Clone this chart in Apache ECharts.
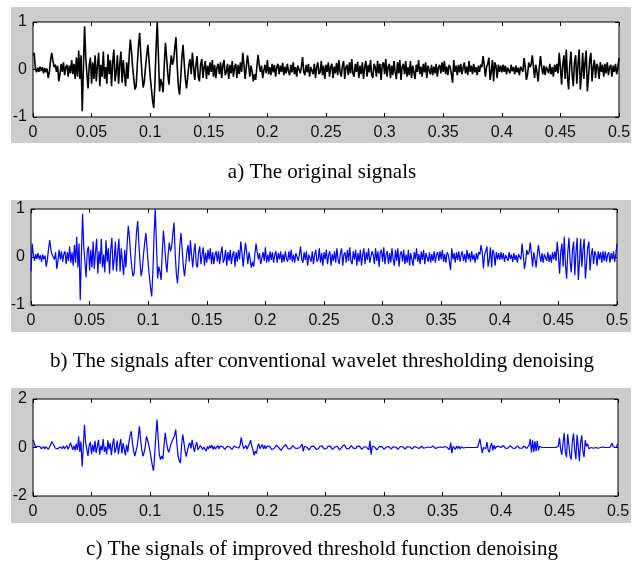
<!DOCTYPE html>
<html>
<head>
<meta charset="utf-8">
<script src="https://cdn.jsdelivr.net/npm/echarts@6/dist/echarts.min.js"></script>
<style>
	body { margin: 0; background: #fff; }
	#main { width: 638px; height: 565px; }
</style>
</head>
<body>
<div id="main"></div>
<script>
	// sample spacing (s), every array below starts at t = 0
	var dt = 0.001;

	// a) original signal
	var sigA = [
		0.30, 0.35, 0.02, -0.06, 0.04, -0.05, 0.06, -0.03, 0.05, -0.08, 0.03, -0.06, 0.02, -0.18, -0.05, 0.20, 0.35, 0.18, 0.05, 0.10,
		-0.05, 0.08, -0.25, -0.10, 0.12, -0.05, 0.15, -0.12, 0.05, 0.10, -0.15, 0.08, -0.08, 0.20, -0.10, 0.12, -0.20, 0.25, -0.15, 0.40,
		-0.20, 0.30, -0.88, 0.05, 0.91, 0.25, -0.10, -0.40, 0.10, 0.25, -0.30, 0.15, -0.20, 0.30, -0.25, 0.08, 0.35, -0.35, 0.10, -0.15,
		0.38, -0.20, 0.05, -0.30, 0.32, -0.10, 0.20, -0.35, 0.15, 0.42, -0.25, -0.05, 0.30, -0.30, 0.10, 0.38, -0.28, 0.20, -0.10, -0.35,
		0.15, -0.20, 0.25, 0.63, 0.40, 0.05, -0.20, -0.42, -0.35, 0.10, 0.50, 0.77, 0.30, -0.10, -0.38, -0.25, 0.05, 0.30, 0.52, 0.20,
		-0.15, -0.40, -0.65, -0.81, -0.30, 0.45, 1.00, 0.30, -0.46, -0.20, -0.30, -0.48, 0.10, 0.56, 0.25, -0.10, -0.32, 0.05, 0.30, 0.10,
		0.20, 0.45, 0.68, 0.10, -0.35, -0.53, -0.20, 0.25, 0.52, 0.15, -0.20, -0.40, -0.15, 0.10, 0.22, -0.10, 0.35, 0.05, -0.22, 0.10,
		0.28, -0.15, -0.25, 0.10, 0.22, -0.18, 0.05, 0.18, -0.20, 0.08, -0.12, 0.15, -0.05, 0.20, -0.15, 0.10, -0.18, 0.05, 0.12, -0.10,
		0.15, -0.18, 0.08, 0.20, -0.12, -0.05, 0.12, -0.20, 0.10, -0.08, 0.18, -0.15, 0.05, 0.12, -0.18, 0.10, -0.10, 0.15, -0.05, 0.35,
		0.10, -0.20, 0.05, 0.30, 0.10, -0.15, 0.08, -0.05, -0.25, -0.10, -0.22, 0.05, 0.31, 0.10, -0.05, 0.08, -0.18, -0.02, 0.10, -0.08,
		0.20, -0.10, 0.05, -0.12, 0.12, -0.06, 0.10, -0.15, 0.05, 0.12, -0.10, 0.08, -0.05, 0.14, -0.12, 0.06, -0.08, 0.12, -0.04, -0.12,
		0.10, -0.06, 0.15, -0.10, 0.05, -0.15, 0.08, 0.12, -0.08, 0.05, 0.26, -0.05, -0.12, 0.10, -0.06, 0.12, -0.15, 0.05, 0.08, -0.10,
		0.12, -0.18, 0.05, 0.15, -0.10, -0.05, 0.18, -0.12, 0.08, -0.20, 0.10, -0.05, 0.15, -0.15, 0.05, 0.12, -0.18, 0.06, -0.08, 0.14,
		-0.12, 0.20, -0.05, -0.15, 0.08, 0.18, -0.20, 0.05, 0.10, -0.12, 0.15, -0.08, 0.22, -0.10, -0.15, 0.12, -0.05, 0.16, -0.18, 0.08,
		-0.10, 0.15, -0.20, 0.05, 0.18, -0.15, 0.10, -0.06, 0.20, -0.12, -0.18, 0.12, 0.05, -0.15, 0.18, -0.08, 0.12, -0.22, 0.10, 0.15,
		-0.10, 0.22, -0.15, 0.05, 0.12, -0.18, 0.08, -0.12, 0.18, -0.05, -0.20, 0.15, -0.08, 0.20, -0.22, 0.06, 0.12, -0.10, 0.18, -0.15,
		0.05, -0.12, 0.18, -0.18, 0.08, 0.12, -0.20, 0.10, -0.05, 0.20, -0.10, 0.06, -0.15, 0.12, -0.06, 0.15, -0.18, 0.08, 0.12, -0.10,
		0.10, -0.12, 0.06, -0.08, 0.12, -0.15, 0.05, 0.10, -0.08, 0.15, -0.05, 0.18, -0.10, 0.06, -0.12, 0.10, 0.05, -0.10, -0.28, 0.20,
		-0.05, 0.08, -0.12, 0.10, -0.06, 0.12, -0.10, 0.04, 0.15, -0.08, 0.06, -0.12, 0.18, -0.05, 0.08, -0.10, 0.12, -0.06, 0.05, -0.12,
		0.08, -0.05, 0.10, 0.05, 0.28, 0.10, -0.15, 0.05, 0.12, 0.25, -0.22, -0.05, 0.20, -0.25, 0.15, 0.08, -0.18, 0.10, -0.05, 0.08,
		-0.06, 0.10, -0.05, 0.08, -0.10, 0.04, 0.06, -0.08, 0.10, -0.04, 0.05, -0.10, 0.08, -0.06, 0.04, -0.12, 0.06, 0.10, -0.05, 0.24,
		0.05, -0.22, -0.10, 0.15, 0.05, 0.10, 0.30, 0.05, -0.18, 0.10, -0.05, -0.25, 0.05, 0.28, 0.05, -0.10, 0.08, -0.12, 0.06, 0.10,
		-0.08, 0.12, -0.10, 0.05, -0.15, 0.10, -0.05, 0.12, -0.08, 0.35, 0.05, -0.32, 0.10, 0.30, -0.20, 0.42, -0.15, -0.42, 0.10, 0.38,
		-0.10, -0.35, 0.15, 0.30, -0.30, 0.10, 0.42, -0.42, -0.10, 0.35, -0.20, 0.15, 0.40, -0.46, -0.15, 0.20, 0.35, -0.25, 0.05, 0.20,
		-0.18, 0.12, 0.05, -0.20, 0.15, -0.05, 0.10, -0.15, 0.12, -0.08, 0.15, -0.12, 0.05, 0.10, -0.15, 0.08, -0.05, 0.12, -0.10, 0.05, 0.24
	];

	// b) conventional wavelet thresholding
	var sigB = [
		-0.30, 0.28, 0.05, -0.08, 0.06, -0.04, 0.08, -0.05, 0.04, -0.10, 0.05, -0.05, 0.03, -0.20, -0.05, 0.18, 0.35, 0.15, 0.05, 0.08,
		-0.05, 0.10, -0.25, -0.08, 0.15, -0.05, 0.12, -0.10, 0.06, 0.12, -0.15, 0.10, -0.08, 0.22, -0.12, 0.10, -0.18, 0.25, -0.12, 0.42,
		-0.22, 0.28, -0.90, 0.05, 0.90, 0.22, -0.10, -0.42, 0.12, 0.22, -0.28, 0.15, -0.22, 0.32, -0.25, 0.10, 0.38, -0.35, 0.12, -0.15,
		0.38, -0.22, 0.05, -0.32, 0.35, -0.10, 0.18, -0.35, 0.15, 0.40, -0.28, -0.05, 0.32, -0.30, 0.10, 0.38, -0.30, 0.18, -0.10, -0.38,
		0.15, -0.22, 0.25, 0.65, 0.42, 0.05, -0.22, -0.40, -0.35, 0.12, 0.50, 0.75, 0.30, -0.10, -0.40, -0.25, 0.05, 0.30, 0.50, 0.20,
		-0.15, -0.40, -0.65, -0.82, -0.30, 0.45, 1.00, 0.30, -0.45, -0.20, -0.30, -0.48, 0.10, 0.55, 0.25, -0.10, -0.32, 0.05, 0.30, 0.12,
		0.22, 0.48, 0.72, 0.10, -0.35, -0.55, -0.20, 0.25, 0.50, 0.15, -0.20, -0.40, -0.15, 0.10, 0.25, -0.10, 0.35, 0.05, -0.22, 0.10,
		0.28, -0.15, -0.22, 0.10, 0.22, -0.15, 0.05, 0.20, -0.18, 0.08, -0.12, 0.15, -0.05, 0.18, -0.15, 0.10, -0.15, 0.05, 0.12, -0.10,
		0.12, -0.15, 0.08, 0.22, -0.12, -0.05, 0.15, -0.18, 0.10, -0.08, 0.15, -0.15, 0.05, 0.12, -0.20, 0.10, -0.10, 0.15, -0.05, 0.32,
		0.10, -0.20, 0.05, 0.30, 0.10, -0.15, 0.10, -0.05, -0.22, -0.10, -0.20, 0.05, 0.28, 0.10, -0.05, 0.08, -0.15, -0.02, 0.10, -0.08,
		0.20, -0.12, 0.05, -0.10, 0.12, -0.06, 0.10, -0.12, 0.05, 0.12, -0.12, 0.08, -0.05, 0.12, -0.12, 0.06, -0.10, 0.12, -0.04, -0.10,
		0.12, -0.06, 0.15, -0.10, 0.05, -0.12, 0.08, 0.12, -0.08, 0.05, 0.22, -0.05, -0.12, 0.10, -0.06, 0.12, -0.18, 0.05, 0.08, -0.10,
		0.12, -0.15, 0.05, 0.15, -0.10, -0.05, 0.18, -0.12, 0.08, -0.18, 0.10, -0.05, 0.15, -0.15, 0.05, 0.12, -0.18, 0.06, -0.08, 0.12,
		-0.12, 0.18, -0.05, -0.15, 0.08, 0.18, -0.18, 0.05, 0.10, -0.12, 0.15, -0.08, 0.20, -0.10, -0.15, 0.12, -0.05, 0.15, -0.18, 0.08,
		-0.10, 0.15, -0.18, 0.05, 0.18, -0.15, 0.10, -0.06, 0.18, -0.12, -0.15, 0.12, 0.05, -0.15, 0.18, -0.08, 0.12, -0.20, 0.10, 0.15,
		-0.10, 0.20, -0.15, 0.05, 0.12, -0.15, 0.08, -0.12, 0.18, -0.05, -0.18, 0.15, -0.08, 0.18, -0.20, 0.06, 0.12, -0.10, 0.15, -0.15,
		0.05, -0.12, 0.15, -0.18, 0.08, 0.12, -0.18, 0.10, -0.05, 0.18, -0.10, 0.06, -0.15, 0.12, -0.06, 0.15, -0.15, 0.08, 0.12, -0.10,
		0.10, -0.12, 0.06, -0.08, 0.12, -0.12, 0.05, 0.10, -0.08, 0.12, -0.05, 0.15, -0.10, 0.06, -0.12, 0.10, 0.05, -0.10, -0.27, 0.18,
		-0.05, 0.08, -0.12, 0.10, -0.06, 0.12, -0.10, 0.04, 0.12, -0.08, 0.06, -0.12, 0.15, -0.05, 0.08, -0.10, 0.12, -0.06, 0.05, -0.12,
		0.08, -0.05, 0.10, 0.05, 0.25, 0.10, -0.24, 0.05, 0.12, 0.22, -0.20, -0.05, 0.20, -0.22, 0.15, 0.08, -0.18, 0.10, -0.05, 0.08,
		-0.06, 0.10, -0.05, 0.08, -0.10, 0.04, 0.06, -0.08, 0.10, -0.04, 0.05, -0.10, 0.08, -0.06, 0.04, -0.12, 0.06, 0.10, -0.05, 0.28,
		0.05, -0.25, -0.10, 0.15, 0.05, 0.10, 0.30, 0.05, -0.20, 0.10, -0.05, -0.22, 0.05, 0.25, 0.05, -0.10, 0.08, -0.12, 0.06, 0.10,
		-0.08, 0.10, -0.10, 0.05, -0.12, 0.10, -0.05, 0.12, -0.08, 0.32, 0.05, -0.35, 0.10, 0.28, -0.20, 0.42, -0.15, -0.45, 0.10, 0.40,
		-0.10, -0.32, 0.15, 0.32, -0.38, 0.10, 0.40, -0.48, -0.10, 0.38, -0.20, 0.15, 0.38, -0.45, -0.15, 0.20, 0.32, -0.28, 0.05, 0.18,
		-0.15, 0.12, 0.05, -0.18, 0.12, -0.05, 0.10, -0.12, 0.12, -0.08, 0.12, -0.10, 0.05, 0.10, -0.12, 0.08, -0.05, 0.12, -0.10, 0.06, 0.28
	];

	// c) improved threshold function
	var sigC = [
		0.32, 0.20, 0.02, -0.04, 0.05, -0.02, 0.04, -0.05, 0.02, 0.03, -0.06, 0.04, -0.02, -0.08, -0.03, 0.10, 0.25, 0.30, 0.08, -0.02,
		0.05, -0.06, -0.12, 0.02, 0.08, -0.04, 0.06, -0.05, 0.03, 0.08, -0.08, 0.04, 0.20, 0.05, -0.10, 0.08, -0.12, 0.15, -0.10, 0.45,
		-0.18, 0.25, -0.78, 0.05, 0.94, 0.20, -0.08, -0.35, 0.08, 0.22, -0.28, 0.12, -0.18, 0.28, -0.22, 0.06, 0.32, -0.30, 0.08, -0.12,
		0.35, -0.18, 0.04, -0.28, 0.30, -0.08, 0.18, -0.32, 0.12, 0.38, -0.22, -0.04, 0.28, -0.28, 0.08, 0.35, -0.25, 0.18, -0.08, -0.32,
		0.12, -0.18, 0.22, 0.50, 0.67, 0.20, -0.15, -0.35, -0.43, 0.05, 0.45, 0.87, 0.30, -0.10, -0.36, -0.20, 0.05, 0.46, 0.30, 0.10,
		-0.15, -0.45, -0.75, -0.96, -0.30, 0.50, 1.15, 0.35, -0.30, -0.50, -0.35, -0.48, 0.10, 0.60, 0.25, -0.05, -0.20, -0.23, 0.15, 0.28,
		0.20, 0.50, 0.74, 0.15, -0.35, -0.55, -0.64, 0.10, 0.53, 0.20, -0.15, -0.38, -0.12, 0.08, 0.20, -0.05, 0.32, 0.05, -0.18, 0.08,
		0.22, -0.10, -0.12, 0.08, 0.12, -0.08, 0.02, 0.10, -0.15, 0.04, -0.06, 0.08, -0.02, 0.10, -0.08, 0.04, -0.06, 0.02, 0.08, -0.05,
		0.06, 0.10, 0.04, -0.04, -0.08, -0.03, 0.05, 0.09, 0.03, -0.05, -0.08, -0.02, 0.06, 0.08, 0.00, -0.06, -0.02, 0.10, 0.42, 0.15,
		-0.05, -0.02, 0.08, -0.06, 0.05, 0.15, 0.30, 0.05, -0.10, -0.32, -0.15, -0.25, 0.05, 0.15, -0.05, -0.10, 0.12, -0.06, 0.08, -0.05,
		0.05, 0.10, 0.06, -0.02, -0.08, -0.10, -0.04, 0.04, 0.10, 0.08, 0.00, -0.06, -0.12, -0.05, 0.03, 0.10, 0.12, 0.04, -0.05, -0.10,
		-0.06, 0.02, 0.08, 0.05, -0.03, -0.08, -0.04, 0.04, 0.00, -0.06, 0.14, -0.16, 0.05, 0.08, 0.02, -0.06, -0.10, -0.03, 0.05, 0.10,
		0.06, -0.02, -0.08, -0.12, -0.05, 0.04, 0.10, 0.07, 0.00, -0.06, -0.10, -0.04, 0.05, 0.11, 0.06, -0.02, -0.08, -0.06, 0.02, 0.08,
		0.05, -0.03, -0.10, -0.07, 0.02, 0.09, 0.12, 0.04, -0.05, -0.10, -0.05, 0.03, 0.08, 0.04, -0.04, -0.09, -0.04, 0.05, 0.10, 0.06,
		-0.02, -0.08, -0.05, 0.03, 0.06, 0.02, 0.00, -0.10, 0.28, -0.30, 0.06, 0.08, 0.02, -0.06, -0.10, -0.04, 0.04, 0.10, 0.05, -0.03,
		-0.08, -0.05, 0.02, 0.07, 0.04, -0.02, -0.06, -0.03, 0.03, 0.06, 0.02, -0.04, -0.07, -0.02, 0.04, 0.08, 0.03, -0.03, -0.06, -0.02,
		0.03, 0.06, 0.02, -0.04, -0.06, -0.01, 0.04, 0.05, 0.00, -0.05, -0.04, 0.02, 0.05, 0.02, -0.03, -0.04, 0.00, 0.03, 0.02, 0.00,
		0.00, 0.04, 0.06, 0.02, -0.04, -0.05, 0.00, 0.04, 0.02, 0.00, 0.00, 0.00, 0.04, -0.03, 0.00, 0.05, -0.10, 0.20, -0.23, 0.05,
		0.10, -0.08, 0.06, -0.04, 0.05, -0.06, 0.03, 0.00, -0.02, 0.00, 0.00, 0.00, 0.00, 0.00, 0.00, 0.00, 0.00, 0.00, 0.00, 0.00,
		0.00, 0.00, 0.36, 0.05, -0.22, 0.00, 0.08, -0.05, 0.22, -0.10, -0.20, 0.05, 0.18, -0.12, 0.10, -0.06, 0.04, -0.03, 0.05, -0.02,
		0.00, 0.05, 0.08, 0.03, -0.04, -0.08, -0.03, 0.04, 0.08, 0.04, -0.03, -0.08, -0.04, 0.03, 0.07, 0.04, -0.03, -0.07, -0.03, 0.03,
		0.06, 0.02, -0.04, 0.04, 0.10, 0.35, -0.20, 0.30, -0.18, 0.25, -0.15, 0.28, -0.12, 0.05, 0.00, 0.00, 0.00, 0.00, 0.00, 0.00,
		0.00, 0.00, 0.00, 0.00, 0.00, 0.00, 0.00, 0.00, 0.00, 0.05, 0.40, -0.10, -0.30, 0.20, 0.60, -0.20, -0.40, 0.55, 0.10, -0.35,
		-0.50, 0.25, 0.58, -0.10, -0.48, 0.52, 0.05, -0.57, 0.20, 0.50, -0.15, -0.40, 0.30, 0.05, 0.15, -0.05, 0.00, 0.00, 0.02, -0.03,
		0.00, 0.00, 0.03, -0.03, 0.00, 0.00, 0.00, 0.02, -0.02, 0.00, 0.00, 0.00, 0.00, 0.00, 0.05, 0.18, 0.02, -0.03, 0.00, 0.05, 0.15
	];

	var captions = [
		'a) The original signals',
		'b) The signals after conventional wavelet thresholding denoising',
		'c) The signals of improved threshold function denoising'
	];
	var yRanges = [[-1, 1, 1], [-1, 1, 1], [-2, 2, 2]];
	var lineColors = ['#000000', '#0000ff', '#0000ff'];

	function toPairs(arr) {
		var out = [];
		for(var i = 0; i < arr.length; i++) {
			out.push([i * dt, arr[i]]);
		}
		return out;
	}

	var grids = [
		{ left: 33, top: 22, width: 586, height: 95 },
		{ left: 31, top: 209, width: 586, height: 96 },
		{ left: 33, top: 399, width: 585, height: 97 }
	];
	// gray figure panels behind each axes box
	var panels = [
		{ x: 11, y: 7, width: 620, height: 136 },
		{ x: 11, y: 200, width: 620, height: 132 },
		{ x: 11, y: 388, width: 620, height: 135 }
	];
	var captionY = [172, 361, 549];

	var labelFont = { color: '#111', fontFamily: 'Liberation Sans', fontSize: 16 };
	var xAxes = [], yAxes = [], series = [], graphics = [];
	var data = [sigA, sigB, sigC];

	for(var k = 0; k < 3; k++) {
		grids[k].show = true;
		grids[k].backgroundColor = '#fff';
		grids[k].borderColor = '#000';
		grids[k].borderWidth = 1;

		// bottom + top x axes (MATLAB style ticks on both sides)
		for(var s = 0; s < 2; s++) {
			xAxes.push({
				type: 'value',
				gridIndex: k,
				position: s == 0 ? 'bottom' : 'top',
				min: 0,
				max: 0.5,
				interval: 0.05,
				axisLine: { show: false, onZero: false },
				axisTick: { show: true, inside: true, length: 4, lineStyle: { color: '#000' } },
				splitLine: { show: false },
				axisLabel: {
					show: s == 0,
					margin: 8,
					color: labelFont.color,
					fontFamily: labelFont.fontFamily,
					fontSize: labelFont.fontSize,
					formatter: function(v) { return String(parseFloat(v.toFixed(2))); }
				}
			});
			yAxes.push({
				type: 'value',
				gridIndex: k,
				position: s == 0 ? 'left' : 'right',
				min: yRanges[k][0],
				max: yRanges[k][1],
				interval: yRanges[k][2],
				axisLine: { show: false, onZero: false },
				axisTick: { show: true, inside: true, length: 4, lineStyle: { color: '#000' } },
				splitLine: { show: false },
				axisLabel: {
					show: s == 0,
					margin: 6,
					color: labelFont.color,
					fontFamily: labelFont.fontFamily,
					fontSize: labelFont.fontSize
				}
			});
		}

		series.push({
			type: 'line',
			xAxisIndex: k * 2,
			yAxisIndex: k * 2,
			data: toPairs(data[k]),
			showSymbol: false,
			silent: true,
			lineStyle: { color: lineColors[k], width: k == 0 ? 1.6 : 1.2 }
		});

		graphics.push({
			type: 'rect',
			z: -1,
			shape: panels[k],
			style: { fill: '#cccccc' }
		});
		graphics.push({
			type: 'text',
			x: 322,
			y: captionY[k],
			style: {
				text: captions[k],
				fill: '#000',
				font: '21px "Liberation Serif"',
				textAlign: 'center',
				textVerticalAlign: 'middle'
			}
		});
	}

	var chart = echarts.init(document.getElementById('main'));
	chart.setOption({
		animation: false,
		backgroundColor: '#fff',
		grid: grids,
		xAxis: xAxes,
		yAxis: yAxes,
		series: series,
		graphic: { elements: graphics }
	});
</script>
</body>
</html>
